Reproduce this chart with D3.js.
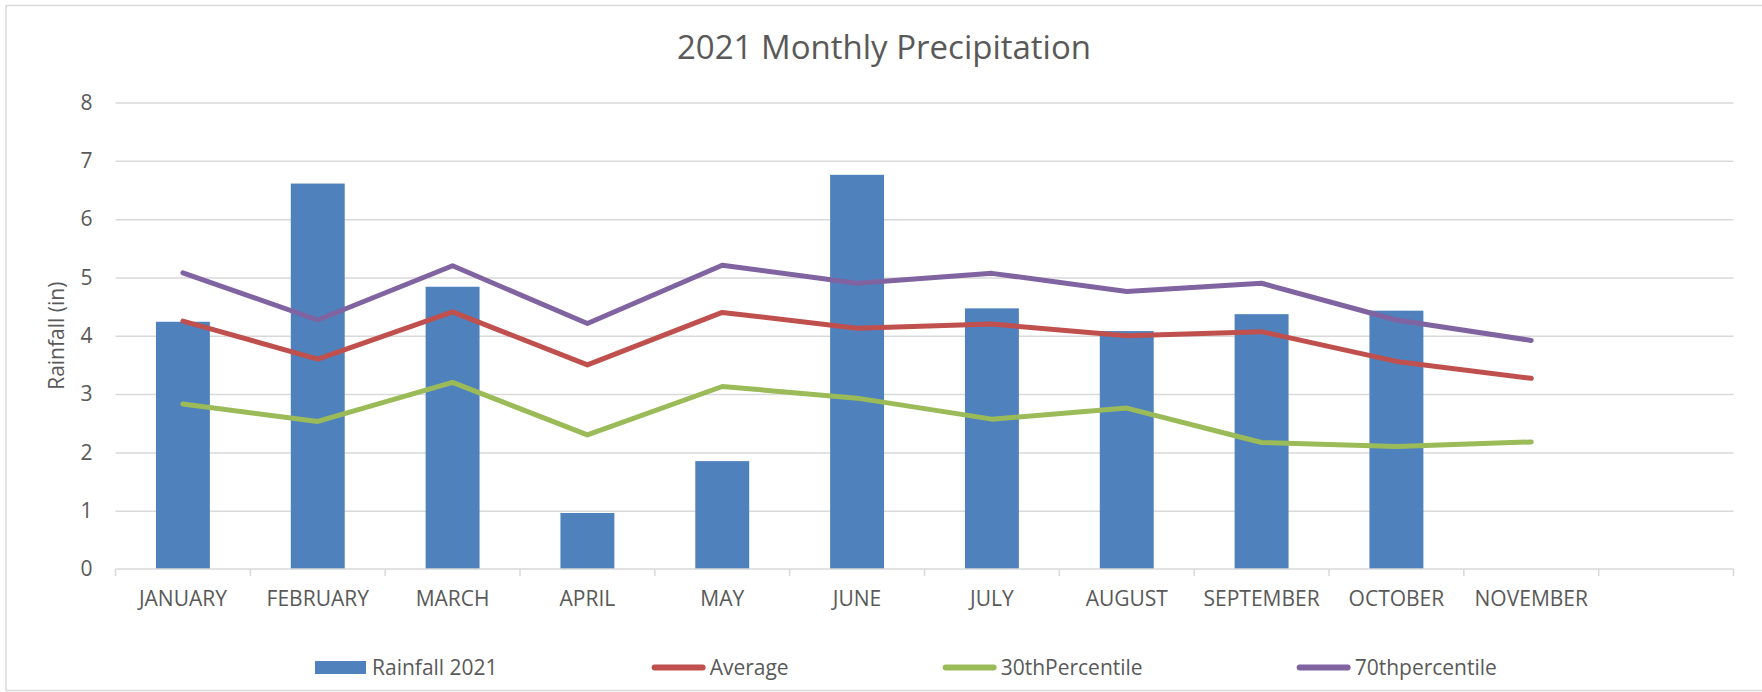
<!DOCTYPE html>
<html>
<head>
<meta charset="utf-8">
<script src="https://cdnjs.cloudflare.com/ajax/libs/d3/7.8.5/d3.min.js"></script>
<style>
  html, body { margin: 0; padding: 0; background: #fff; }
  svg { display: block; font-family: "Open Sans", "Noto Sans", sans-serif; }
</style>
</head>
<body>
<svg id="chart" width="1762" height="692"></svg>
<script>
// Categories (the last slot is empty in the source sheet)
const months = ['JANUARY', 'FEBRUARY', 'MARCH', 'APRIL', 'MAY', 'JUNE',
  'JULY', 'AUGUST', 'SEPTEMBER', 'OCTOBER', 'NOVEMBER', ''];

// Series values, inches
const rainfall2021 = [4.24, 6.61, 4.84, 0.96, 1.85, 6.76, 4.47, 4.08, 4.37, 4.43, null];
const average = [4.25, 3.60, 4.41, 3.50, 4.40, 4.13, 4.20, 4.00, 4.07, 3.56, 3.27];
const pct30 = [2.83, 2.53, 3.20, 2.30, 3.13, 2.93, 2.57, 2.76, 2.17, 2.10, 2.18];
const pct70 = [5.08, 4.27, 5.20, 4.21, 5.21, 4.90, 5.07, 4.76, 4.90, 4.27, 3.92];

// Tick labels
const yTicks = [0, 1, 2, 3, 4, 5, 6, 7, 8];

const seriesNames = ['Rainfall 2021', 'Average', '30thPercentile', '70thpercentile'];

// Styling
const textColor = '#595959';
const gridColor = '#d9d9d9';
const barColor = '#4f81bd';
const lineColors = { 'Average': '#c0504d', '30thPercentile': '#9bbb59', '70thpercentile': '#8064a2' };

const svg = d3.select('#chart');
const plot = { left: 115.5, right: 1733.5, top: 102.5, bottom: 569 };

// Chart frame (right edge is cropped off in the reference)
svg.append('rect')
  .attr('x', 6).attr('y', 5.5)
  .attr('width', 1800).attr('height', 685)
  .attr('fill', '#fff')
  .attr('stroke', gridColor)
  .attr('stroke-width', 1.5);

// Scales
const x = d3.scaleBand()
  .domain(months.map((m, i) => i))
  .range([plot.left, plot.right])
  .padding(0);

const y = d3.scaleLinear()
  .domain([0, 8])
  .range([plot.bottom, plot.top]);

// Title
svg.append('text')
  .attr('x', 884).attr('y', 58.5)
  .attr('text-anchor', 'middle')
  .attr('fill', textColor)
  .style('font-size', '33px')
  .text('2021 Monthly Precipitation');

// Gridlines + y axis labels
const yAxis = svg.append('g')
  .attr('transform', `translate(${plot.left},0)`)
  .call(d3.axisLeft(y).tickValues(yTicks).tickSize(-(plot.right - plot.left)).tickPadding(23));

yAxis.select('.domain').remove();
yAxis.selectAll('.tick line')
  .attr('stroke', gridColor)
  .attr('stroke-width', 1.5)
  .filter(d => d === 0).remove();
yAxis.selectAll('.tick text')
  .attr('fill', textColor)
  .style('font-size', '21px')
  .style('font-family', '"Open Sans", sans-serif');

// Y axis title
svg.append('text')
  .attr('transform', `translate(64,${(plot.top + plot.bottom) / 2}) rotate(-90)`)
  .attr('text-anchor', 'middle')
  .attr('fill', textColor)
  .style('font-size', '21px')
  .text('Rainfall (in)');

// Bars
svg.append('g')
  .selectAll('rect')
  .data(rainfall2021.map((v, i) => ({ i, v })).filter(d => d.v != null))
  .join('rect')
    .attr('x', d => x(d.i) + x.bandwidth() * 0.3)
    .attr('width', x.bandwidth() * 0.4)
    .attr('y', d => y(d.v))
    .attr('height', d => y(0) - y(d.v))
    .attr('fill', barColor);

// X axis (category)
const xAxis = svg.append('g')
  .attr('transform', `translate(0,${plot.bottom})`)
  .call(d3.axisBottom(x).tickFormat(i => months[i]).tickSize(0).tickPadding(22));

xAxis.select('.domain')
  .attr('stroke', gridColor)
  .attr('stroke-width', 1.5)
  .attr('d', `M${plot.left},0H${plot.right}`);
xAxis.selectAll('.tick text')
  .attr('fill', textColor)
  .style('font-size', '21px')
  .style('font-family', '"Open Sans", sans-serif');

// Tick marks on band boundaries
svg.append('g')
  .selectAll('line')
  .data(d3.range(months.length + 1))
  .join('line')
    .attr('x1', i => plot.left + i * x.step())
    .attr('x2', i => plot.left + i * x.step())
    .attr('y1', plot.bottom)
    .attr('y2', plot.bottom + 7)
    .attr('stroke', gridColor)
    .attr('stroke-width', 1.5);

// Lines
const line = d3.line()
  .defined(d => d != null)
  .x((d, i) => x(i) + x.bandwidth() / 2)
  .y(d => y(d));

const lineSeries = [
  { name: 'Average', values: average },
  { name: '30thPercentile', values: pct30 },
  { name: '70thpercentile', values: pct70 },
];

svg.append('g')
  .selectAll('path')
  .data(lineSeries)
  .join('path')
    .attr('fill', 'none')
    .attr('stroke', d => lineColors[d.name])
    .attr('stroke-width', 5)
    .attr('stroke-linecap', 'round')
    .attr('stroke-linejoin', 'round')
    .attr('d', d => line(d.values));

// Legend
const legend = svg.append('g').attr('transform', 'translate(315,667.5)');
let lx = 0;
seriesNames.forEach((name, i) => {
  const g = legend.append('g').attr('transform', `translate(${lx},0)`);
  if (i === 0) {
    g.append('rect')
      .attr('x', 0).attr('y', -6.5)
      .attr('width', 51).attr('height', 13)
      .attr('fill', barColor);
  } else {
    g.append('line')
      .attr('x1', 2).attr('x2', 50)
      .attr('stroke', lineColors[name])
      .attr('stroke-width', 6)
      .attr('stroke-linecap', 'round');
  }
  const t = g.append('text')
    .attr('x', 57).attr('dy', '0.35em')
    .attr('fill', textColor)
    .style('font-size', '21px')
    .text(name);
  lx += 57 + t.node().getComputedTextLength() + 155;
});
</script>
</body>
</html>
